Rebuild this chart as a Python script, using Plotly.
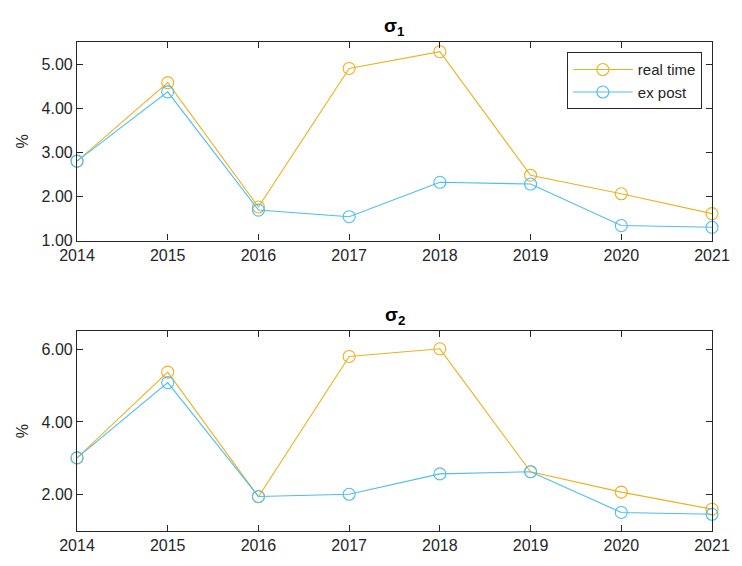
import plotly.graph_objects as go

# Years on the shared x axis
years = [2014, 2015, 2016, 2017, 2018, 2019, 2020, 2021]

# sigma_1 (%)
sigma1_real_time = [2.80, 4.58, 1.76, 4.90, 5.28, 2.48, 2.06, 1.61]
sigma1_ex_post = [2.80, 4.37, 1.69, 1.54, 2.32, 2.28, 1.34, 1.30]

# sigma_2 (%)
sigma2_real_time = [3.01, 5.37, 1.94, 5.80, 6.01, 2.63, 2.07, 1.60]
sigma2_ex_post = [3.01, 5.08, 1.95, 2.01, 2.57, 2.63, 1.51, 1.46]

series_names = ["real time", "ex post"]
series_colors = ["#EDB120", "#4DBEEE"]

top_yticks = [1, 2, 3, 4, 5]
bottom_yticks = [2, 4, 6]

AX = "#262626"
FONT = "Liberation Sans, Arial, sans-serif"

fig = go.Figure()

panels = [
    ("x", "y", [sigma1_real_time, sigma1_ex_post], True),
    ("x2", "y2", [sigma2_real_time, sigma2_ex_post], False),
]
for xa, ya, data, show in panels:
    for name, color, vals in zip(series_names, series_colors, data):
        fig.add_trace(go.Scatter(
            x=years, y=vals, name=name, xaxis=xa, yaxis=ya,
            mode="lines+markers", showlegend=show, cliponaxis=False,
            line=dict(color=color, width=1.1),
            marker=dict(symbol="circle-open", size=12, color=color,
                        line=dict(width=1.1, color=color)),
        ))

common_x = dict(
    range=[2014, 2021], tickvals=years, ticks="inside", ticklen=6,
    tickcolor=AX, showline=True, linecolor=AX, linewidth=1.2,
    mirror="ticks", showgrid=False, zeroline=False,
    tickfont=dict(size=16, color=AX, family=FONT),
)
common_y = dict(
    ticks="inside", ticklen=6, tickcolor=AX, showline=True, linecolor=AX,
    linewidth=1.2, mirror="ticks", showgrid=False, zeroline=False,
    tickformat=".2f", tickfont=dict(size=16, color=AX, family=FONT),
    title=dict(text="%", font=dict(size=16, color=AX, family=FONT), standoff=8),
)

fig.update_layout(
    width=742, height=566,
    margin=dict(l=77, r=21, t=42, b=26),
    paper_bgcolor="white", plot_bgcolor="white",
    font=dict(family=FONT, color=AX),
    xaxis=dict(domain=[0, 1], anchor="y", **common_x),
    yaxis=dict(domain=[0.594, 1.0], anchor="x", range=[1, 5.5],
               tickvals=top_yticks, **common_y),
    xaxis2=dict(domain=[0, 1], anchor="y2", **common_x),
    yaxis2=dict(domain=[0, 0.409], anchor="x2", range=[1, 6.5],
                tickvals=bottom_yticks, **common_y),
    legend=dict(
        x=0.984, y=0.979, xanchor="right", yanchor="top",
        bordercolor=AX, borderwidth=1, bgcolor="white",
        font=dict(size=15, color=AX, family=FONT),
        tracegroupgap=0, itemwidth=60,
    ),
    annotations=[
        dict(text="<b>σ<sub>1</sub></b>", xref="paper", yref="paper",
             x=0.5, y=1.0, xanchor="center", yanchor="bottom", yshift=1,
             showarrow=False, font=dict(size=19, color="black", family=FONT)),
        dict(text="<b>σ<sub>2</sub></b>", xref="paper", yref="paper",
             x=0.5, y=0.409, xanchor="center", yanchor="bottom", yshift=1,
             showarrow=False, font=dict(size=19, color="black", family=FONT)),
    ],
)

fig.write_html("out.html")
